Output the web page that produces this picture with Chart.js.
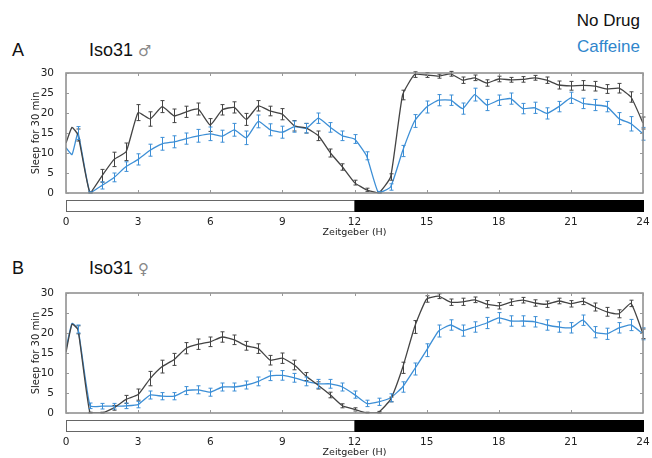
<!DOCTYPE html>
<html>
<head>
<meta charset="utf-8">
<script src="https://cdn.jsdelivr.net/npm/chart.js@4.4.0/dist/chart.umd.min.js"></script>
<style>
  body { margin: 0; width: 652px; height: 458px; background: #fff; position: relative; overflow: hidden; font-family: "Liberation Sans", Arial, sans-serif; }
  .txt { position: absolute; white-space: nowrap; line-height: 1; }
  .panel { position: absolute; left: 0; width: 652px; height: 185px; }
</style>
</head>
<body>
<div class="txt" style="left:12px;top:41px;font-size:18px;color:#111">A</div>
<div class="txt" style="left:89px;top:41px;font-size:18px;color:#111">Iso31 <span style="font-family:'DejaVu Sans';font-size:15px;color:#888">♂</span></div>
<div class="txt" style="right:12px;top:12px;font-size:17px;color:#111">No Drug</div>
<div class="txt" style="right:12px;top:38px;font-size:17px;color:#2f86cc">Caffeine</div>
<div class="txt" style="left:12px;top:259px;font-size:18px;color:#111">B</div>
<div class="txt" style="left:89px;top:259px;font-size:18px;color:#111">Iso31 <span style="font-family:'DejaVu Sans';font-size:15px;color:#888">♀</span></div>

<div class="panel" style="top:60px"><canvas id="chartA"></canvas></div>
<div class="panel" style="top:280px"><canvas id="chartB"></canvas></div>

<script>
// time of day (Zeitgeber hours) for every point
const hours = [0, 0.25, 0.5, 1, 1.5, 2, 2.5, 3, 3.5, 4, 4.5, 5, 5.5, 6, 6.5, 7, 7.5, 8, 8.5, 9, 9.5,
  10, 10.5, 11, 11.5, 12, 12.5, 13, 13.5, 14, 14.5, 15, 15.5, 16, 16.5, 17, 17.5, 18, 18.5, 19, 19.5,
  20, 20.5, 21, 21.5, 22, 22.5, 23, 23.5, 24];

// A: Iso31 males
const noDrugA = [12.5, 16.4, 14.5, 0, 4.3, 8.4, 10.3, 20.1, 18.5, 21.6, 19.3, 20.3, 21, 17, 20.8, 21.4, 18.4, 21.8, 20.5, 19.7, 16.8,
  16.2, 14.3, 10, 6.5, 2.6, 0.8, 0, 4, 24.5, 29.6, 29.5, 29.2, 29.8, 28.2, 28.8, 27.5, 28.5, 28.3, 28.4, 28.8,
  28.2, 27, 26.8, 26.9, 26.7, 26, 26.2, 24, 17.5];
const noDrugErrA = [0, 0, 1.5, 0.3, 1.6, 1.8, 2.2, 2, 1.8, 1.5, 1.7, 1.4, 1.5, 1.6, 1.3, 1.4, 1.5, 1.3, 1.2, 1.4, 1.3,
  1.2, 1.2, 1, 0.8, 0.6, 0.4, 0.3, 0.8, 1.2, 0.7, 0.6, 0.5, 0.6, 0.8, 0.7, 0.8, 0.7, 0.6, 0.7, 0.6,
  0.8, 1, 1.1, 1.2, 1.2, 1.1, 1.2, 1.3, 1.5];
const caffeineA = [11.3, 9.6, 15, 0, 1.9, 3.9, 6.6, 8.4, 10.7, 12.3, 12.8, 13.6, 14.3, 14.8, 14.2, 15.8, 13.8, 17.9, 15.8, 15.2, 16.6,
  16.2, 18.7, 16.4, 14.3, 13.5, 9.3, 0, 1.5, 10.5, 18, 21.5, 23.2, 23.2, 21.1, 24.6, 22, 23.2, 23.6, 21.1, 21.3,
  19.9, 21.6, 23.8, 22.4, 22, 21.6, 18.6, 17.3, 14.8];
const caffeineErrA = [0, 0, 1.6, 0.3, 0.9, 1.1, 1.2, 1.4, 1.5, 1.6, 1.5, 1.4, 1.6, 1.7, 1.5, 1.6, 1.7, 1.6, 1.5, 1.5, 1.4,
  1.2, 1.3, 1.2, 1.2, 1.1, 1, 0.4, 0.8, 1.4, 1.6, 1.5, 1.4, 1.3, 1.4, 1.6, 1.4, 1.3, 1.4, 1.3, 1.4,
  1.4, 1.3, 1.4, 1.3, 1.4, 1.3, 1.5, 1.8, 1.6];

// B: Iso31 females
const noDrugB = [15.2, 22.2, 20.8, 0, 0, 1.3, 3.4, 4.6, 8.6, 11.6, 13.4, 16.2, 17.2, 17.8, 19, 18.3, 16.8, 16.1, 13.2, 13.7, 12,
  9.1, 6.9, 4.5, 1.8, 0.9, 0, 0.2, 3.4, 11.3, 21.5, 28.5, 29.2, 27.7, 27.8, 28.3, 27.2, 26.8, 27.7, 28.2, 27.5,
  27.2, 28, 27.3, 27.9, 26.5, 25.3, 24.8, 27.4, 19.8];
const noDrugErrB = [0, 0, 1, 0.2, 0.2, 0.6, 1, 1.4, 1.8, 1.6, 1.5, 1.4, 1.3, 1.2, 1.3, 1.2, 1.1, 1.2, 1.2, 1.3, 1.2,
  1, 0.9, 0.7, 0.5, 0.4, 0.2, 0.2, 0.6, 1.4, 1.6, 0.8, 0.6, 0.8, 0.9, 0.7, 0.9, 0.8, 0.8, 0.7, 0.8,
  0.8, 0.7, 0.8, 0.8, 1, 1.1, 1, 0.8, 1.2];
const caffeineB = [16, 22.4, 21, 1.8, 1.7, 1.7, 1.8, 2.1, 4.5, 4.2, 4.2, 5.6, 5.8, 5.2, 6.5, 6.5, 7, 7.9, 9.3, 9.4, 8.8,
  7.9, 7.3, 7.3, 6.5, 4.6, 2.4, 2.8, 3.8, 6.5, 11, 15.7, 20.5, 22, 20.6, 21.5, 22.5, 23.8, 23, 23, 22.8,
  22, 21.5, 21.3, 23.2, 20.2, 19.8, 21.3, 22, 19.8];
const caffeineErrB = [0, 0, 1, 0.7, 0.7, 0.7, 0.7, 0.8, 1, 0.9, 0.9, 1, 1, 1, 1, 1, 1, 1.1, 1.2, 1.2, 1.1,
  1.1, 1.1, 1.1, 1, 0.9, 0.8, 0.9, 1, 1.3, 1.5, 1.6, 1.5, 1.3, 1.4, 1.3, 1.4, 1.3, 1.3, 1.3, 1.3,
  1.3, 1.3, 1.3, 1.3, 1.4, 1.4, 1.3, 1.4, 1.5];

const xTicks = [0, 3, 6, 9, 12, 15, 18, 21, 24];
const yTicks = [0, 5, 10, 15, 20, 25, 30];
// light phase, dark phase of the LD cycle
const lightPhase = [0, 12];
const darkPhase = [12, 24];

const colNoDrug = '#444444';
const colCaffeine = '#3d8fd6';

const toPoints = (ys) => ys.map((y, i) => ({ x: hours[i], y: y }));

const extrasPlugin = {
  id: 'extras',
  afterDatasetsDraw(chart) {
    const { ctx, chartArea, scales } = chart;
    const xs = scales.x, ys = scales.y;
    // error bars
    chart.data.datasets.forEach((ds) => {
      ctx.save();
      ctx.strokeStyle = ds.borderColor;
      ctx.lineWidth = 1;
      ds.errors.forEach((e, i) => {
        if (!e) return;
        const px = Math.round(xs.getPixelForValue(hours[i])) + 0.5;
        const top = ys.getPixelForValue(ds.data[i].y + e);
        const bot = ys.getPixelForValue(Math.max(0, ds.data[i].y - e));
        ctx.beginPath();
        ctx.moveTo(px, top); ctx.lineTo(px, bot);
        ctx.moveTo(px - 2, top); ctx.lineTo(px + 2, top);
        ctx.moveTo(px - 2, bot); ctx.lineTo(px + 2, bot);
        ctx.stroke();
      });
      ctx.restore();
    });
    // frame and inward ticks
    ctx.save();
    ctx.strokeStyle = '#8a8a8a';
    ctx.lineWidth = 1.5;
    ctx.strokeRect(chartArea.left, chartArea.top, chartArea.right - chartArea.left, chartArea.bottom - chartArea.top);
    ctx.lineWidth = 1;
    ctx.strokeStyle = '#999';
    ctx.beginPath();
    xTicks.forEach((t) => {
      const px = Math.round(xs.getPixelForValue(t)) + 0.5;
      ctx.moveTo(px, chartArea.top); ctx.lineTo(px, chartArea.top + 3);
      ctx.moveTo(px, chartArea.bottom); ctx.lineTo(px, chartArea.bottom - 3);
    });
    yTicks.forEach((t) => {
      const py = Math.round(ys.getPixelForValue(t)) + 0.5;
      ctx.moveTo(chartArea.left, py); ctx.lineTo(chartArea.left + 3, py);
      ctx.moveTo(chartArea.right, py); ctx.lineTo(chartArea.right - 3, py);
    });
    ctx.stroke();
    // light / dark bar
    const barTop = chartArea.bottom + 7, barH = 11;
    const l0 = xs.getPixelForValue(lightPhase[0]), l1 = xs.getPixelForValue(lightPhase[1]);
    const d0 = xs.getPixelForValue(darkPhase[0]), d1 = xs.getPixelForValue(darkPhase[1]);
    ctx.fillStyle = '#fff';
    ctx.fillRect(l0, barTop, l1 - l0, barH);
    ctx.strokeStyle = '#666';
    ctx.lineWidth = 1;
    ctx.strokeRect(l0 + 0.5, barTop + 0.5, l1 - l0, barH);
    ctx.fillStyle = '#000';
    ctx.fillRect(d0, barTop, d1 - d0 + 1, barH + 1);
    ctx.restore();
  }
};

function makeChart(id, noDrug, noDrugErr, caffeine, caffeineErr) {
  return new Chart(document.getElementById(id), {
    type: 'line',
    data: {
      datasets: [
        { label: 'No Drug', data: toPoints(noDrug), errors: noDrugErr, borderColor: colNoDrug, borderWidth: 1.3, pointRadius: 0, tension: 0.15 },
        { label: 'Caffeine', data: toPoints(caffeine), errors: caffeineErr, borderColor: colCaffeine, borderWidth: 1.3, pointRadius: 0, tension: 0.15 }
      ]
    },
    options: {
      responsive: false,
      animation: false,
      devicePixelRatio: 1,
      layout: { padding: { top: 13, right: 9, left: 30, bottom: 7 } },
      plugins: { legend: { display: false }, tooltip: { enabled: false } },
      scales: {
        x: {
          type: 'linear', min: 0, max: 24,
          afterBuildTicks: (s) => { s.ticks = xTicks.map((v) => ({ value: v })); },
          afterFit: (s) => { s.height = 45; s.paddingLeft = 0; s.paddingRight = 0; },
          grid: { display: false },
          border: { display: false },
          ticks: { padding: 15, maxRotation: 0, font: { family: 'DejaVu Sans', size: 10.5 }, color: '#222' },
          title: { display: true, text: 'Zeitgeber (H)', padding: { top: 0, bottom: 0 }, font: { family: 'DejaVu Sans', size: 9.5 }, color: '#222' }
        },
        y: {
          min: 0, max: 30,
          afterBuildTicks: (s) => { s.ticks = yTicks.map((v) => ({ value: v })); },
          afterFit: (s) => { s.width = 36; s.paddingTop = 0; s.paddingBottom = 0; },
          grid: { display: false },
          border: { display: false },
          ticks: { padding: 4, font: { family: 'DejaVu Sans', size: 10.5 }, color: '#222' },
          title: { display: true, text: 'Sleep for 30 min', padding: 0, font: { family: 'DejaVu Sans', size: 10 }, color: '#222' }
        }
      }
    },
    plugins: [extrasPlugin]
  });
}

const cA = document.getElementById('chartA');
const cB = document.getElementById('chartB');
cA.width = 652; cA.height = 185;
cB.width = 652; cB.height = 185;
makeChart('chartA', noDrugA, noDrugErrA, caffeineA, caffeineErrA);
makeChart('chartB', noDrugB, noDrugErrB, caffeineB, caffeineErrB);
</script>
</body>
</html>
